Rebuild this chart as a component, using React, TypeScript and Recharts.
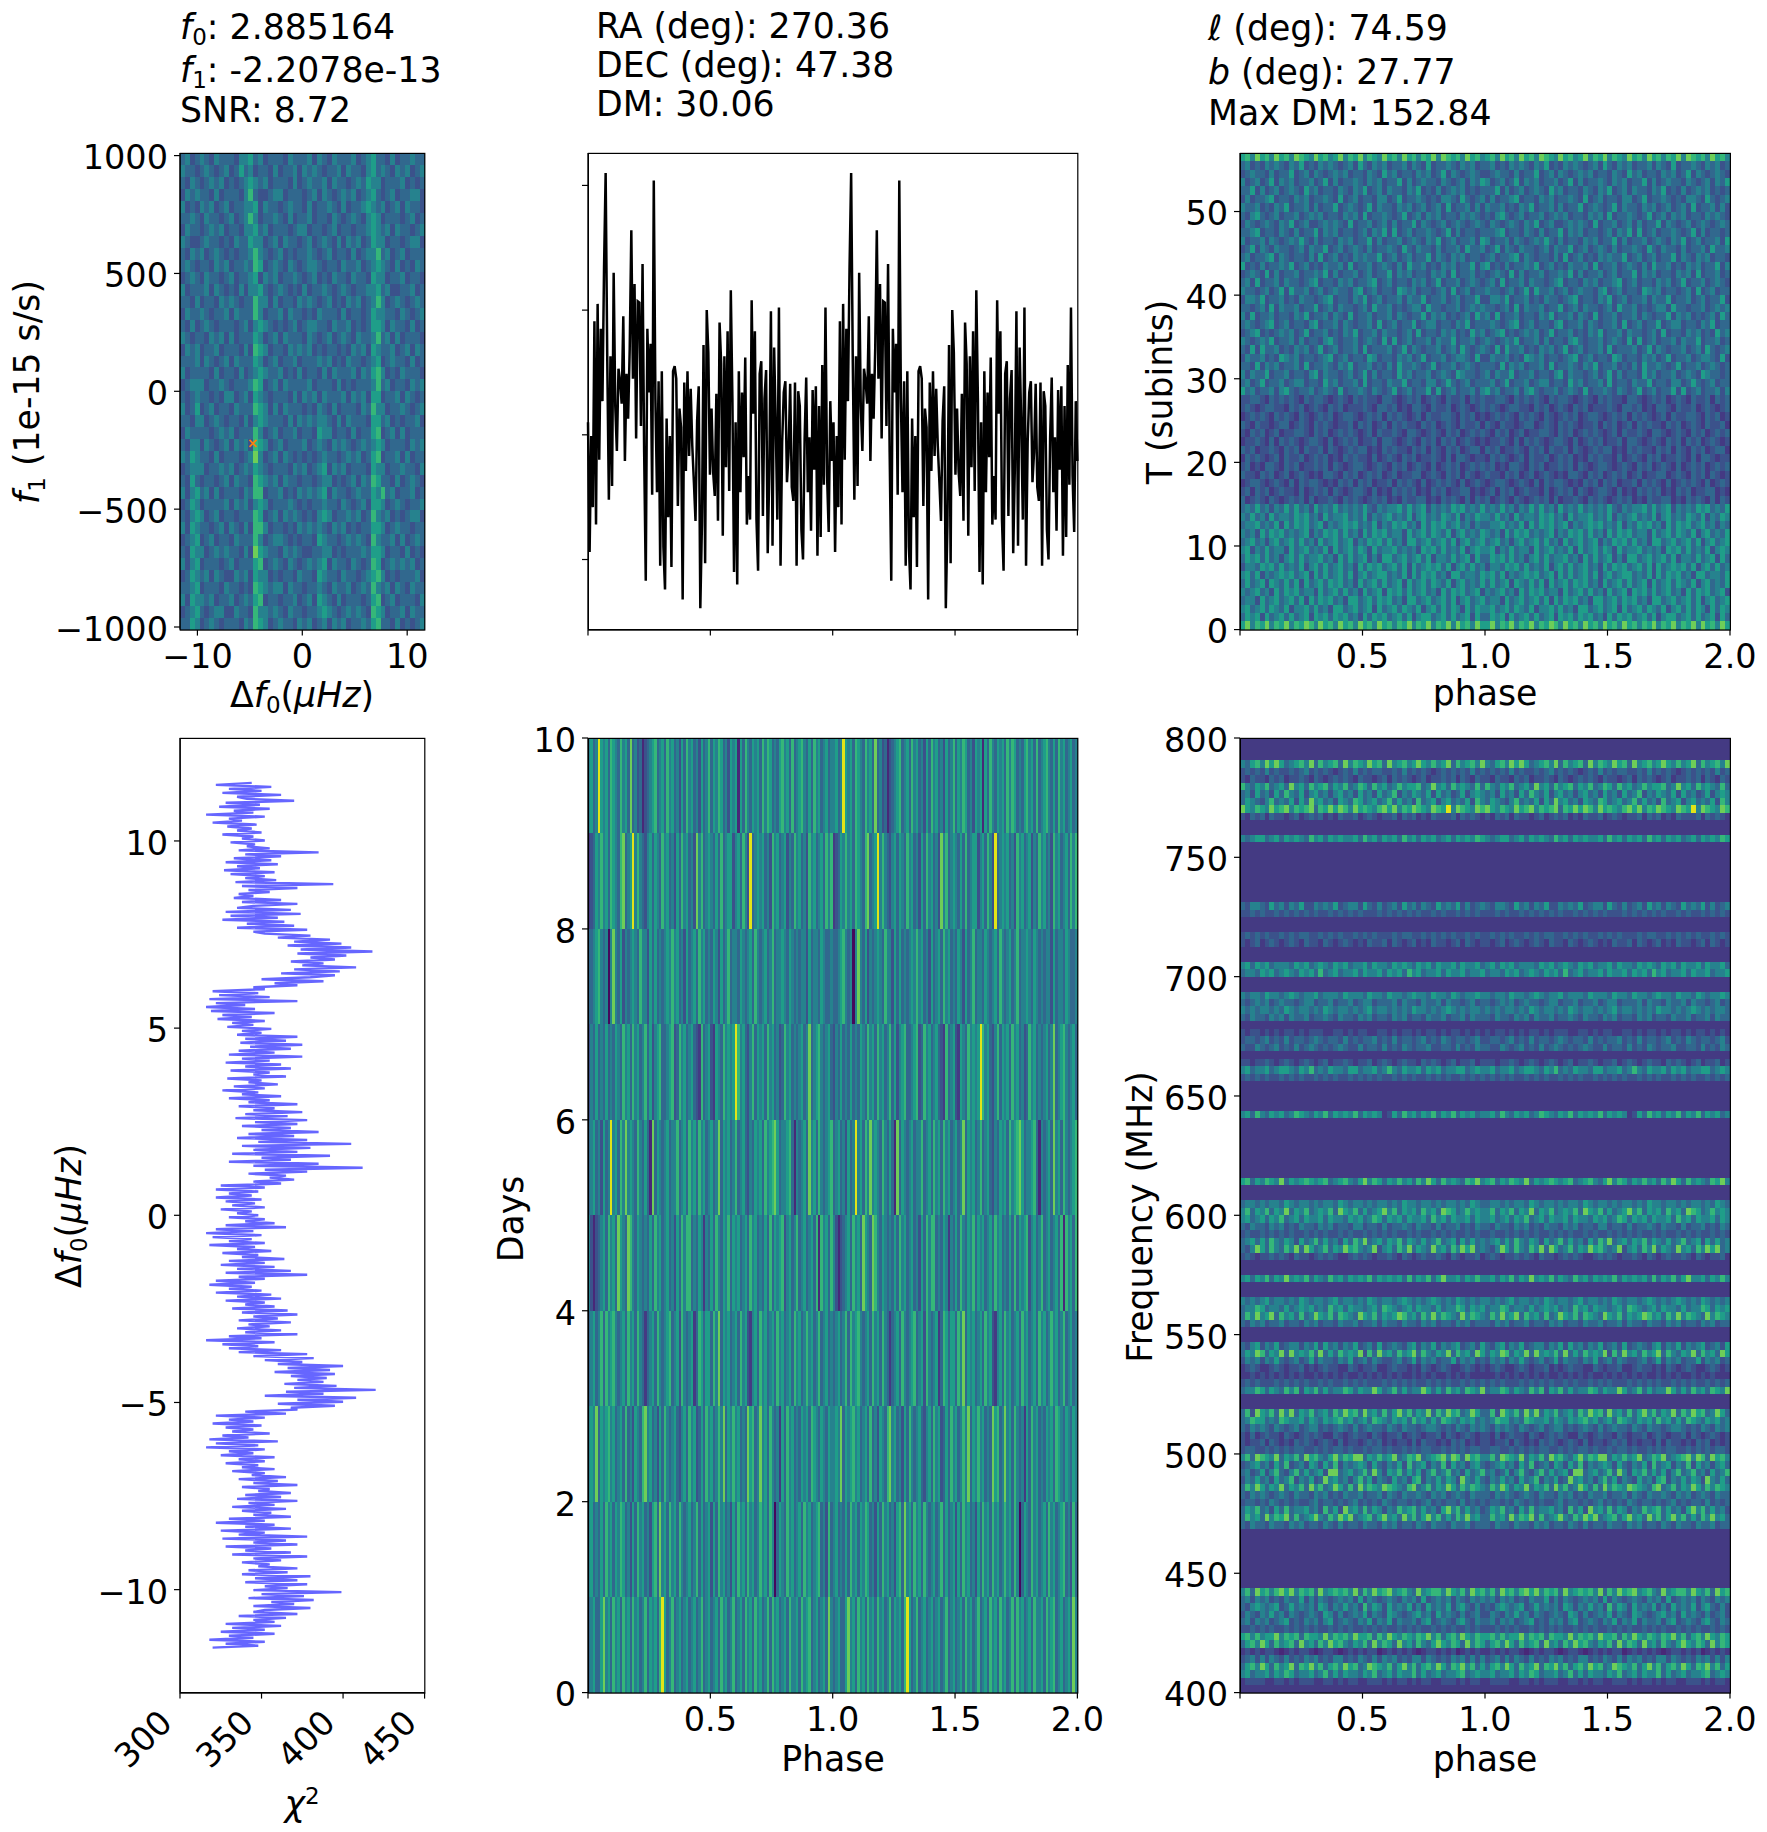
import { Line, LineChart, Scatter, ScatterChart, XAxis, YAxis } from 'recharts';

const FONT = 'DejaVu Sans';
const TICK_SIZE = 33.5;

// Chart box sits around each plot area so tick labels have room.
const LEFT = 180;
const RIGHT = 36;
const TOP = 30;
const BOTTOM = 90;

// Level 0-9 along viridis, the digits in the rows below index into this.
const LEVELS = ['#46085c', '#482878', '#443a83', '#3b528b', '#31688e', '#26828e', '#1f9e89', '#35b779', '#6ece58', '#e2e418'];

const X_COL1 = { left: 180.2, w: 244.6 };
const X_COL2 = { left: 588.4, w: 489.4 };
const X_COL3 = { left: 1240.4, w: 490 };
const Y_ROW1 = { top: 153.4, h: 476.6 };
const Y_ROW2 = { top: 738.4, h: 954.6 };

const PHASE_TICKS = [0, 0.5, 1, 1.5, 2];
const F0_TICKS = [-10, 0, 10];
const F1_TICKS = [-1000, -500, 0, 500, 1000];
const SUBINT_TICKS = [0, 10, 20, 30, 40, 50];
const PROFILE_TICKS = [0, 1, 2, 3];
const DF_TICKS = [-10, -5, 0, 5, 10];
const CHI2_TICKS = [300, 350, 400, 450];
const DAY_TICKS = [0, 2, 4, 6, 8, 10];
const FREQ_TICKS = [400, 450, 500, 550, 600, 650, 700, 750, 800];

// f1 against delta f0, top row first
const F1_ROWS = [
  '4534543544 4355645344 4354445354 3544453456 4435344544',
  '5443454345 3464534435 3445354543 4453544356 4543545345',
  '4354345453 4345654534 4435345445 3544345465 5344453434',
  '3545443534 4435743345 5344434535 4345453456 4345344553',
  '5343545345 3445563544 3454435344 5435344565 4534535443',
  '4454354434 5345753445 4353445344 3543454356 5344434534',
  '3544345453 4435564534 4434553443 4534434456 5453544345',
  '5433454434 3544655345 3544345345 4353545346 5534434553',
  '4354534543 4344575434 5343445434 5344353455 7453453444',
  '4543443545 3445476345 4354345543 4435445345 6543534354',
  '3454354434 5344563545 3445434534 3544354436 5534453443',
  '5344453543 4353556434 5434353445 4345434455 6453344534',
  '4435344354 5434475535 3443545434 5343545345 7534543454',
  '3544543445 3544475344 5354434354 4435344346 5544354345',
  '4353454344 4345356543 4345345544 3544534346 6535443534',
  '5434435453 5344465345 3544435434 5345435445 7453534443',
  '3545344534 4435376534 4354545343 4434354536 5445345354',
  '4445354345 3544465345 3445344454 5343544345 6345443534',
  '5344443534 4353456544 5343534435 3544453546 7534354443',
  '3455534454 3444576345 3544445344 4353434445 7453443545',
  '4345443435 5345365434 4435354535 4445354536 6344535434',
  '5346345344 3544476535 3544434354 3534443547 5534454345',
  '4435534543 4435356544 4353545455 4353544436 6453434453',
  '3544443454 5344475345 3445344365 5344353446 7345353444',
  '4355354345 3545376534 5344453454 3545434545 6534443545',
  '5465443534 4434585345 3543434345 4434545346 7344535344',
  '3455534454 5345465434 4435453456 3545344436 5534454435',
  '4364344345 3544376545 3544344345 5343453547 6443534543',
  '5356453534 4435477344 5343545456 3544345446 5745344534',
  '3465344445 3545356534 4454343445 4435434536 6534543445',
  '4356534534 4344476345 3545434356 5344545347 5453434553',
  '5365443453 5435377534 4343545454 3545343446 6534544344',
  '3456345344 3544475345 5434344365 4434545437 5445353454',
  '4365534545 4435386544 3545433445 5343444546 6534435343',
  '5356344434 5344467345 4354345456 3544354347 6345454534',
  '3465453543 3545365534 3443544365 4435443456 7534344453',
  '4456344435 4434376545 5354434454 3544534547 5453543544',
  '5365545344 5345467344 3445345365 4353444346 7345344435',
  '3456434553 3544375545 4354434456 5434545437 6534453544',
  '4465345434 4435476534 5443545345 3545344546 7443534345',
];

// phase against subintegration, one fold, top row first
const SUBINT_ROWS = [
  '67586758675876586756857685765867586757685876758675',
  '45343545435463435454345364354534453543634454354534',
  '34544353446345354345453443543645344354534635434543',
  '53453463545344534635344543545344635345443543453546',
  '44635345345436453443543546345354435463435345453434',
  '35344563443545344543634534435534634454343554364345',
  '54453435463445353446345434635443545345345363445353',
  '43564345344534545344354536344543463453545344354543',
  '35434543546345334545436344534535344635434534543454',
  '44563443543534463545344345354636345344543463534434',
  '53445354345464353443545344635344534543546345344536',
  '34635435443453544634534543534454364354435344536445',
  '45344563543443536345343545446345345344635435453443',
  '63435344546345343544536344534543536445343545344635',
  '34543635344534454635344534534463545344354536344534',
  '45363445354434563443545344563453443545346344534543',
  '54434534636445345345443563453443654534434536345344',
  '35546344534354434563443546345344535446344534534463',
  '44345363544534463453544345364453434553644344534545',
  '53634453443546344535436344534453543446354534345364',
  '45434563453443563445354344536345344634553443546344',
  '34563434545346344534354634453544345363443545343645',
  '54345463445353443564344534543636345344535446344534',
  '43636445343545346345344536344453463543445345364345',
  '35445343654534434563453443653443545346344534554363',
  '44363545344536344543546344534353644543463445345434',
  '53544634453443563544345346353443645344534543654434',
  '45346344534553443645344536344354463443553464345344',
  '64534453564344534543634454354346345344636345344535',
  '33443243434324344323432434332443234342343243342434',
  '34323443324342343243423334324434232443243342343234',
  '23434324343243234342344323434243432342433443243423',
  '43243323442343243432334243423424343324342343243342',
  '32434234233443243423434323424334324432343243423434',
  '23343242434323443242343423342443234324342434234323',
  '43423343243424334243234344232434332434243243423442',
  '24343234243342343423243433242343243423343242443233',
  '34232443243423343424323443234324342343242343423434',
  '43324342342343232443243423434234233442343243424323',
  '23443234324243443232434243423342434324234343242343',
  '34243423433242343424323443242324343423243423344232',
  '42343243234342423343243432343423243344232434324243',
  '45464535464645364546454546435455646456354546564546',
  '54645364554656453645564546354564546356454654635465',
  '45564546364656456354565645463546564536465645645354',
  '54536465645456354656464536465645536456465463564546',
  '45645356456464536456456354656464536645645646356456',
  '56354645536456454636456465364556454536564645463565',
  '46564645356464556453646456353664564564635546456364',
  '35546564645463564645645364656456463645656463564645',
  '56463545656456364645646356456645463646564536645546',
  '46456365464636456465645364564645636456465463564546',
  '54564536465645536456464536456365646456453646564563',
  '45536456456463646564536645646564536645645646356456',
  '56456465463556464536645645636456465463564646536465',
  '46563645646456365646564536465645646356645646456364',
  '68576857685768758675867586758675768576857685867586',
];

// phase against day, one fold, top row first
const DAY_ROWS = [
  '5645965647 6547564845 3413456745 6475645364 7564536457 4657645365 6164754656 4757645467 5647456754 6475645645',
  '2346575647 6547845695 7543564654 7564536475 6453857456 5464745663 5647539456 5645375645 6354756453 7564564757',
  '4456754505 8546354565 4755364645 4565756453 6456475645 4653645745 5465456475 4564574556 5465454553 6455465445',
  '3546454645 4654756475 6457463567 4456734756 4564327456 3265475656 9756435746 5647564534 7564545645 8456754564',
  '4564536459 5647585654 7546418465 4564557456 4756475645 6458465645 7456435465 6475678645 5674154564 8564754567',
  '5313456475 6486548754 6545464756 4564536475 7745465254 6475465746 5645647564 5464746567 3564574564 5647175647',
  '4564574756 7545647564 7542456475 4567456375 4562476466 4758465645 6475632564 7564564756 4564756457 5645745645',
  '5658465675 6456474536 5478564536 4754564356 4756346475 6457584657 5645486745 8564754526 4756454656 4765465465',
  '5645464756 4657645364 7564536748 5647564754 5645746456 3647564536 4756475645 7564750465 4756456475 6456745374',
  '4564468564 7564756475 6457465647 9645745645 6456457456 4564756457 4564756475 6457475645 6475564756 7456456485',
];

// phase against frequency, one fold, top row first; '2' alone is a masked channel
const FREQ_ROWS = [
  '2', '2', '2',
  '54675868645675847567485765867485675686575684756758',
  '34343534334345343432343534344334353434323434343534',
  '32433243423343243234343243323424343234233434243243',
  '75465745648564756746574576475645756674585647565474',
  '45364536475463564535645364536457354654636453463565',
  '46543574546364856453654764564574645374563564546375',
  '86576586785767847686875867657868576876587695876587',
  '32434243323423434232433423432334243423243334243432',
  '2', '2',
  '54566456465654756465655647564656475646564564656576',
  '2', '2', '2', '2', '2', '2', '2', '2',
  '43554364535463354546345536435345364535436454635345',
  '33434334343434343343434343334343434343343433434343',
  '2', '2',
  '34343433434344334343433434343334344334343434334343',
  '32342343234324332432343232433424323423243323424323',
  '2', '2',
  '56465645554656456546564556465546565465646556465564',
  '45546564565465647456455646556465647564556465564556',
  '2', '2',
  '54554655456545564555465554655465545655465546545565',
  '43454534544345534453445345534445354435445354434534',
  '54545545465455454654554545645545454655454565454554',
  '43544354535445344543544354534435453443544534453544',
  '2',
  '32332323233232333223323233223323233232332323323232',
  '34434534353443454344353434453435344345343543443453',
  '43354345343534543434543353443534354344533443534354',
  '2',
  '33233432343234323423343233423432343324343234233423',
  '56455645665465745465546645564575465564656455664565',
  '34343433434343343434334343434334343433434343343434',
  '2', '2', '2', '2',
  '56475465645765465746565746565236475646574657465645',
  '2', '2', '2', '2', '2', '2', '2', '2',
  '67465765846567656745675468576465756475864756547685',
  '2', '2',
  '45545455465455454554654554545545465545545455454654',
  '57465746584657456574865746456857465647564876457565',
  '56456465745646556465546564576465646556475646556465',
  '43544354534354435453443553443534454354435344534354',
  '34334343434334343433434334343434334343343434334343',
  '45646475465364574645364758456465746546457456364645',
  '43586475475848645746586754583564758465485647586845',
  '34323343432433234343223434323343243234334324323342',
  '2', '2',
  '56465746585657465475646565746565647465746855646575',
  '2', '2',
  '54545645545465455456455454654554565454565454654545',
  '45576455464565645475646554564765456465546455764656',
  '47585684756474586574765486574656875647585765485765',
  '43545344534435453443544534453544354435453443545344',
  '2', '2',
  '43563546345535463645354634536345435635463545634536',
  '46587465848565748464756583748564756847546584756486',
  '35453546434534635443546345354334534635453446354534',
  '23432234323342323433224323342234332324323432234323',
  '22323232323232232323232232323232322323232232323222',
  '34343334343434334343343434333434343433434343343434',
  '45576465475736574645576465586457464558646475647658',
  '2', '2',
  '47386574858465745647586748564746857465847586745864',
  '45766454765564654656756456476546564756464765465645',
  '43545435434534553434543534544354354434554343543545',
  '32423433243234343224323433243233423432334243234323',
  '32334243232434323432423323434232332424332324342323',
  '34433434343443343434434334344343343434433434343443',
  '57487658465748675468576884657568457684567858748675',
  '34564536473453653647354565364354637456354736453564',
  '45346357435746456388456457485365746463574574536457',
  '35464536457354634856453574635436453673546465385464',
  '47586465846574857458647485765876547845746586475765',
  '43545434543544354534354453445354354454354534543544',
  '34434354343433453443434534343543443434534344353434',
  '46574536474556453746385647465354756746453685746453',
  '47564857684745685475868456746856485746857464758564',
  '43544354435453443543534435443545344354354435445344',
  '2', '2', '2', '2', '2', '2', '2', '2',
  '57486757868576748567675847586785675485677586574867',
  '45354534354463535434545363543454354536345453543545',
  '43565456346454536535464537465364546353645463564353',
  '35435464535434543653534546354365434564536454353453',
  '45354534563435453563454354635463544535634543564354',
  '33434343343434343343434334343433434343343434334343',
  '67575668576747665857675866747586576576857467586576',
  '46758647567485647586754657485764856475468657648576',
  '23232332123233212332123232331232323212332323123232',
  '34535354353435453435534354353545343553543435453535',
  '46758647568476857467586745876574685746758647685746',
  '56455646576455645746465546574564655746456455674565',
  '23333223323233322332323322333232332323322333232332',
  '2',
];

// folded profile, one rotation
const PROFILE = [
  1.10, 0.06, 0.99, 0.42, 1.91, 0.28, 2.05, 0.80, 1.85, 1.27, 2.34, 3.10, 1.61, 0.48, 1.63, 0.59, 2.30, 1.23, 0.87, 1.53,
  1.43, 1.25, 1.95, 0.79, 1.49, 1.13, 1.69, 2.64, 1.45, 2.21, 0.97, 2.07, 2.06, 1.07, 2.37, 0.86, -0.17, 1.85, 1.34, 1.73,
  0.52, 3.04, 1.29, 0.54, 1.43, -0.05, 1.51, 0.10, -0.24, 1.13, 0.34, 0.99, -0.06, 1.51, 1.55, 1.45, 0.43, 1.21, 1.06, -0.32,
  1.42, 0.71, 1.51, 0.83, 1.37, 0.91, 0.62, 0.31, 1.11, 1.39, -0.39, 0.28, 1.72, -0.03, 2.00, 1.66, 0.68, 1.21, 0.70, 0.51,
  1.33, 0.31, 1.90, 1.57, 0.19, 1.63, 0.74, 1.83, 0.55, 2.16, 1.29, -0.10, 1.10, -0.20, 1.51, 0.54, 1.34, 0.82, 1.62, 0.28,
  0.67, 0.32, 2.08, 1.17, 1.83, 0.32, -0.09, 1.49, 1.59, 0.35, 1.29, 1.52, 0.05, 0.72, 1.99, 0.11, 1.70, 1.09, 0.32, 2.02,
  -0.05, 0.94, 1.34, 1.43, 0.62, 0.86, 1.41, 0.58, 0.47, 1.42, -0.05, 1.35, 1.23, 0.24, 0.00, 0.97, 1.46, 0.54, 0.98, 0.23,
  1.36, 0.72, 1.39, 0.03, 1.23, 0.18, 1.56, 0.60, 2.02, 0.67, 0.22, 1.27, 0.79,
];

// chi2 per trial f0, from +11.55 uHz down to -11.55 uHz
const CHI2 = [
  344, 322, 356, 330, 350, 326, 362, 335, 341, 370, 328, 349, 324, 355, 333, 345, 316, 352, 330,
  338, 320, 347, 329, 344, 335, 350, 326, 345, 338, 352, 331, 346, 341, 355, 336, 385, 340, 362,
  333, 356, 328, 360, 335, 349, 327, 358, 331, 352, 340, 359, 334, 394, 338, 372, 342, 355, 336,
  345, 333, 362, 338, 372, 345, 335, 368, 328, 374, 331, 360, 326, 364, 341, 370, 335, 378, 345,
  352, 380, 360, 392, 370, 399, 366, 405, 374, 418, 372, 402, 380, 395, 368, 388, 375, 408, 370,
  398, 362, 395, 380, 350, 388, 358, 372, 345, 352, 320, 348, 324, 355, 318, 372, 322, 340, 316,
  346, 319, 358, 326, 344, 323, 352, 332, 345, 329, 356, 338, 350, 335, 372, 340, 365, 337, 375,
  343, 368, 336, 358, 330, 375, 338, 355, 328, 362, 340, 368, 331, 355, 345, 365, 329, 350, 342,
  360, 333, 352, 326, 348, 338, 362, 330, 355, 342, 372, 336, 358, 345, 375, 340, 366, 334, 378,
  346, 372, 338, 368, 350, 385, 342, 370, 335, 378, 348, 405, 338, 380, 345, 372, 332, 392, 350,
  368, 330, 385, 345, 412, 352, 378, 342, 365, 355, 370, 345, 362, 325, 352, 322, 348, 330, 344,
  322, 350, 328, 346, 332, 352, 325, 344, 335, 348, 330, 352, 340, 358, 328, 365, 322, 345, 316,
  350, 320, 344, 330, 352, 318, 346, 335, 356, 326, 348, 338, 364, 330, 352, 325, 358, 335, 368,
  328, 378, 336, 352, 322, 346, 318, 344, 330, 350, 322, 356, 335, 362, 328, 352, 340, 358, 332,
  366, 338, 372, 345, 360, 336, 368, 342, 355, 335, 362, 340, 372, 330, 350, 316, 358, 326, 348,
  330, 362, 336, 378, 345, 382, 352, 375, 360, 400, 366, 392, 358, 395, 368, 390, 372, 388, 364,
  396, 370, 420, 365, 388, 352, 408, 372, 400, 360, 395, 368, 372, 340, 365, 322, 352, 330, 345,
  320, 350, 328, 345, 332, 355, 326, 342, 318, 360, 322, 348, 316, 352, 330, 345, 325, 358, 336,
  352, 328, 348, 338, 358, 332, 352, 344, 365, 336, 360, 345, 372, 338, 355, 348, 368, 340, 362,
  335, 372, 342, 358, 332, 365, 338, 356, 345, 368, 330, 352, 322, 358, 340, 368, 325, 352, 336,
  378, 326, 365, 345, 372, 328, 356, 340, 368, 332, 378, 345, 362, 338, 355, 348, 372, 342, 366,
  338, 380, 346, 372, 340, 378, 352, 366, 345, 399, 350, 376, 342, 382, 356, 370, 345, 380, 352,
  345, 372, 336, 365, 345, 358, 328, 362, 332, 352, 325, 358, 330, 345, 318, 352, 328, 348, 320,
];

const CANDIDATE = [{ x: -4.7, y: -220.78 }];

const profileData = [...PROFILE, ...PROFILE].map((v, i, all) => ({ phase: (2 * i) / (all.length - 1), v }));
const chi2Data = CHI2.map((chi2, i) => ({ chi2, df: 11.55 - (23.1 * i) / (CHI2.length - 1) }));

const minus = (v: number) => String(v).replace('-', '\u2212');
const phaseLabel = (v: number) => (v === 0 ? '' : v.toFixed(1));
const blank = () => '';

const tickStyle = { fontSize: TICK_SIZE, fontFamily: FONT, fill: '#000' };
const yTickStyle = { ...tickStyle, dy: 2 };
const lineStyle = { stroke: '#000', strokeWidth: 1.2 };

function toCells(rows: string[], xd: number[], yd: number[], folds: number, w: number, h: number) {
  const out: { x: number; y: number; v: number; pw: number; ph: number }[] = [];
  const rowH = (yd[1] - yd[0]) / rows.length;
  rows.forEach((raw, r) => {
    const row = raw.replace(/ /g, '').repeat(folds);
    const colW = (xd[1] - xd[0]) / row.length;
    for (let i = 0; i < row.length; i++) {
      out.push({
        x: xd[0] + (i + 0.5) * colW,
        y: yd[1] - (r + 0.5) * rowH,
        v: Number(row[i]),
        pw: w / row.length,
        ph: h / rows.length,
      });
    }
  });
  return out;
}

function HeatCell(p: any) {
  return (
    <rect
      x={p.cx - p.pw / 2}
      y={p.cy - p.ph / 2}
      width={p.pw + 0.4}
      height={p.ph + 0.4}
      fill={LEVELS[p.v]}
      shapeRendering="crispEdges"
    />
  );
}

function CrossMark(p: any) {
  const r = 3.5;
  return (
    <path
      d={`M${p.cx - r},${p.cy - r}L${p.cx + r},${p.cy + r}M${p.cx - r},${p.cy + r}L${p.cx + r},${p.cy - r}`}
      stroke="#ff7f0e"
      strokeWidth={1.6}
      fill="none"
    />
  );
}

function Heatmap({ xCol, yRow, xd, yd, xTicks, yTicks, xFormat, rows, folds, marker }: any) {
  const cells = toCells(rows, xd, yd, folds, xCol.w, yRow.h);
  return (
    <div style={{ position: 'absolute', left: xCol.left - LEFT, top: yRow.top - TOP }}>
      <ScatterChart
        width={xCol.w + LEFT + RIGHT}
        height={yRow.h + TOP + BOTTOM}
        margin={{ top: TOP, right: RIGHT, bottom: 0, left: 0 }}
      >
        <XAxis
          type="number"
          dataKey="x"
          domain={xd}
          ticks={xTicks}
          interval={0}
          height={BOTTOM}
          tickSize={6}
          tickMargin={9}
          tick={tickStyle}
          tickLine={lineStyle}
          axisLine={lineStyle}
          tickFormatter={xFormat}
        />
        <YAxis
          type="number"
          dataKey="y"
          domain={yd}
          ticks={yTicks}
          interval={0}
          width={LEFT}
          tickSize={6}
          tickMargin={6}
          tick={yTickStyle}
          tickLine={lineStyle}
          axisLine={lineStyle}
          tickFormatter={minus}
        />
        <Scatter data={cells} shape={HeatCell} isAnimationActive={false} />
        {marker && <Scatter data={marker} shape={CrossMark} isAnimationActive={false} />}
      </ScatterChart>
    </div>
  );
}

function ProfilePanel() {
  return (
    <div style={{ position: 'absolute', left: X_COL2.left - LEFT, top: Y_ROW1.top - TOP }}>
      <LineChart
        width={X_COL2.w + LEFT + RIGHT}
        height={Y_ROW1.h + TOP + BOTTOM}
        data={profileData}
        margin={{ top: TOP, right: RIGHT, bottom: 0, left: 0 }}
      >
        <XAxis
          type="number"
          dataKey="phase"
          domain={[0, 2]}
          ticks={PHASE_TICKS}
          interval={0}
          height={BOTTOM}
          tickSize={6}
          tickLine={lineStyle}
          axisLine={lineStyle}
          tickFormatter={blank}
        />
        <YAxis
          type="number"
          domain={[-0.562, 3.26]}
          ticks={PROFILE_TICKS}
          interval={0}
          width={LEFT}
          tickSize={6}
          tickLine={lineStyle}
          axisLine={lineStyle}
          tickFormatter={blank}
        />
        <Line dataKey="v" stroke="#000" strokeWidth={2.5} dot={false} isAnimationActive={false} />
      </LineChart>
    </div>
  );
}

function RotatedTick({ x, y, payload }: any) {
  const ax = x - 6;
  const ay = y + 24;
  return (
    <text x={ax} y={ay} textAnchor="end" transform={`rotate(-45 ${ax} ${ay})`} {...tickStyle}>
      {payload.value}
    </text>
  );
}

function Chi2Panel() {
  return (
    <div style={{ position: 'absolute', left: X_COL1.left - LEFT, top: Y_ROW2.top - TOP }}>
      <LineChart
        layout="vertical"
        width={X_COL1.w + LEFT + RIGHT}
        height={Y_ROW2.h + TOP + BOTTOM}
        data={chi2Data}
        margin={{ top: TOP, right: RIGHT, bottom: 0, left: 0 }}
      >
        <XAxis
          type="number"
          domain={[300, 450]}
          ticks={CHI2_TICKS}
          interval={0}
          height={BOTTOM}
          tickSize={6}
          tick={<RotatedTick />}
          tickLine={lineStyle}
          axisLine={lineStyle}
        />
        <YAxis
          type="number"
          dataKey="df"
          reversed
          domain={[-12.75, 12.75]}
          ticks={DF_TICKS}
          interval={0}
          width={LEFT}
          tickSize={6}
          tickMargin={6}
          tick={yTickStyle}
          tickLine={lineStyle}
          axisLine={lineStyle}
          tickFormatter={minus}
        />
        <Line dataKey="chi2" stroke="#0000ff" strokeOpacity={0.6} strokeWidth={2.4} dot={false} isAnimationActive={false} />
      </LineChart>
    </div>
  );
}

const It = ({ children }: any) => <tspan fontStyle="italic">{children}</tspan>;

// f with a subscript, the way mathtext sets it; the text after it goes back up to the baseline
const Sub = ({ name, index, rest }: { name: string; index: string; rest: string }) => (
  <>
    <tspan fontStyle="italic">{name}</tspan>
    <tspan fontSize={23} dy={6}>{index}</tspan>
    <tspan dy={-6}>{rest}</tspan>
  </>
);

function Overlay() {
  const frames = [
    [X_COL1, Y_ROW1], [X_COL2, Y_ROW1], [X_COL3, Y_ROW1],
    [X_COL1, Y_ROW2], [X_COL2, Y_ROW2], [X_COL3, Y_ROW2],
  ] as any[];
  return (
    <svg
      width={1767}
      height={1832}
      style={{ position: 'absolute', left: 0, top: 0, pointerEvents: 'none' }}
      fontFamily={FONT}
      fontSize={34.7}
      fill="#000"
    >
      {frames.map(([c, r], i) => (
        <rect key={i} x={c.left} y={r.top} width={c.w} height={r.h} fill="none" stroke="#000" strokeWidth={1.2} />
      ))}

      <text x={180} y={39}><Sub name="f" index="0" rest=": 2.885164" /></text>
      <text x={180} y={82}><Sub name="f" index="1" rest=": -2.2078e-13" /></text>
      <text x={180} y={122}>SNR: 8.72</text>

      <text x={596} y={38}>RA (deg): 270.36</text>
      <text x={596} y={77}>DEC (deg): 47.38</text>
      <text x={596} y={116}>DM: 30.06</text>

      <text x={1208} y={40}><It>ℓ</It> (deg): 74.59</text>
      <text x={1208} y={84}><It>b</It> (deg): 27.77</text>
      <text x={1208} y={125}>Max DM: 152.84</text>

      <text x={302} y={707} textAnchor="middle">Δ<Sub name="f" index="0" rest="(" /><It>μHz</It>)</text>
      <text transform="translate(39 392) rotate(-90)" textAnchor="middle"><Sub name="f" index="1" rest=" (1e-15 s/s)" /></text>

      <text x={1485} y={705} textAnchor="middle">phase</text>
      <text transform="translate(1172 392) rotate(-90)" textAnchor="middle">T (subints)</text>

      <text transform="translate(81 1216) rotate(-90)" textAnchor="middle">Δ<Sub name="f" index="0" rest="(" /><It>μHz</It>)</text>
      <text x={302} y={1816} textAnchor="middle"><It>χ</It><tspan fontSize={23} dy={-12}>2</tspan></text>

      <text x={833} y={1771} textAnchor="middle">Phase</text>
      <text transform="translate(523 1219) rotate(-90)" textAnchor="middle">Days</text>

      <text x={1485} y={1771} textAnchor="middle">phase</text>
      <text transform="translate(1152 1217) rotate(-90)" textAnchor="middle">Frequency (MHz)</text>
    </svg>
  );
}

export default function App() {
  return (
    <div style={{ position: 'absolute', left: 0, top: 0, width: 1767, height: 1832, background: '#fff' }}>
      <Heatmap
        xCol={X_COL1}
        yRow={Y_ROW1}
        xd={[-11.66, 11.66]}
        yd={[-1011, 1011]}
        xTicks={F0_TICKS}
        yTicks={F1_TICKS}
        xFormat={minus}
        rows={F1_ROWS}
        folds={1}
        marker={CANDIDATE}
      />
      <ProfilePanel />
      <Heatmap
        xCol={X_COL3}
        yRow={Y_ROW1}
        xd={[0, 2]}
        yd={[0, 57]}
        xTicks={PHASE_TICKS}
        yTicks={SUBINT_TICKS}
        xFormat={phaseLabel}
        rows={SUBINT_ROWS}
        folds={2}
      />
      <Chi2Panel />
      <Heatmap
        xCol={X_COL2}
        yRow={Y_ROW2}
        xd={[0, 2]}
        yd={[0, 10]}
        xTicks={PHASE_TICKS}
        yTicks={DAY_TICKS}
        xFormat={phaseLabel}
        rows={DAY_ROWS}
        folds={2}
      />
      <Heatmap
        xCol={X_COL3}
        yRow={Y_ROW2}
        xd={[0, 2]}
        yd={[400, 800]}
        xTicks={PHASE_TICKS}
        yTicks={FREQ_TICKS}
        xFormat={phaseLabel}
        rows={FREQ_ROWS}
        folds={2}
      />
      <Overlay />
    </div>
  );
}
